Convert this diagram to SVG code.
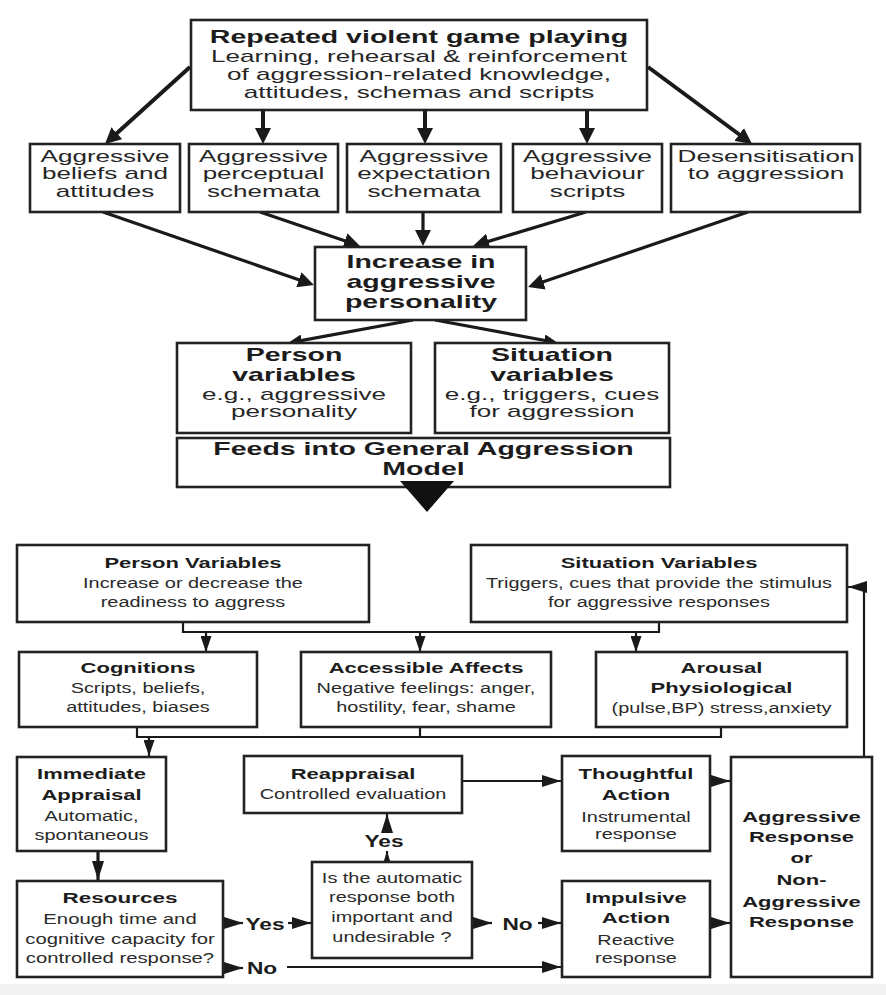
<svg xmlns="http://www.w3.org/2000/svg" width="886" height="995" viewBox="0 0 886 995">
<style>
.box{fill:#fff;stroke:#222;stroke-width:2.6}
.t{font-family:"Liberation Sans",Arial,sans-serif;fill:#1c1c1c;text-anchor:middle}
.bt{font-weight:bold;font-size:17.5px}
.rt{font-size:16px;fill:#262626}
.bb{font-weight:bold;font-size:15.5px}
.rb{font-size:14px;fill:#2a2a2a}
.lb{font-weight:bold;font-size:16px}
.w4{stroke:#1a1a1a;stroke-width:4;fill:none}
.w3{stroke:#1a1a1a;stroke-width:3.2;fill:none}
.w2{stroke:#1a1a1a;stroke-width:2.2;fill:none}
</style>
<defs>
<marker id="at" markerUnits="userSpaceOnUse" markerWidth="16" markerHeight="16" viewBox="0 0 16 16" refX="6" refY="8" orient="auto"><path d="M0,0 L16,8 L0,16 z" fill="#1a1a1a"/></marker>
<marker id="am" markerUnits="userSpaceOnUse" markerWidth="14" markerHeight="12" viewBox="0 0 14 12" refX="5" refY="6" orient="auto"><path d="M0,0 L14,6 L0,12 z" fill="#1a1a1a"/></marker>
<marker id="ab" markerUnits="userSpaceOnUse" markerWidth="19" markerHeight="12" viewBox="0 0 19 12" refX="19" refY="6" orient="auto"><path d="M0,0 L19,6 L0,12 z" fill="#1a1a1a"/></marker>
<marker id="as" markerUnits="userSpaceOnUse" markerWidth="16" markerHeight="11" viewBox="0 0 16 11" refX="16" refY="5.5" orient="auto"><path d="M0,0 L16,5.5 L0,11 z" fill="#1a1a1a"/></marker>
</defs>
<rect x="0" y="0" width="886" height="995" fill="#fff"/>
<rect x="0" y="984" width="886" height="11" fill="#f3f3f3"/>

<g id="connectors">
<!-- top fan-out -->
<line class="w4" x1="190" y1="67" x2="112.4" y2="137.3" marker-end="url(#at)"/>
<line class="w4" x1="263" y1="110" x2="263" y2="134" marker-end="url(#at)"/>
<line class="w4" x1="425" y1="110" x2="425" y2="134" marker-end="url(#at)"/>
<line class="w4" x1="587" y1="110" x2="587" y2="134" marker-end="url(#at)"/>
<line class="w4" x1="648" y1="67" x2="744" y2="138" marker-end="url(#at)"/>
<!-- into Increase -->
<line class="w3" x1="103" y1="212" x2="304.5" y2="281.7" marker-end="url(#at)"/>
<line class="w3" x1="260" y1="212" x2="350.5" y2="242.8" marker-end="url(#at)"/>
<line class="w3" x1="423" y1="212" x2="423" y2="236" marker-end="url(#at)"/>
<line class="w3" x1="586" y1="212" x2="482.6" y2="243.1" marker-end="url(#at)"/>
<line class="w3" x1="748" y1="212" x2="537.5" y2="283.8" marker-end="url(#at)"/>
<!-- Increase to person/situation -->
<line class="w3" x1="413" y1="320" x2="296.8" y2="341.4" marker-end="url(#am)"/>
<line class="w3" x1="435" y1="320" x2="549.2" y2="341.3" marker-end="url(#am)"/>
<!-- GAM connectors -->
<polyline class="w2" points="183,622 183,632 659,632 659,622"/>
<line class="w2" x1="206" y1="632" x2="206" y2="652" marker-end="url(#as)"/>
<line class="w2" x1="420" y1="632" x2="420" y2="652" marker-end="url(#as)"/>
<line class="w2" x1="636" y1="632" x2="636" y2="652" marker-end="url(#as)"/>
<polyline class="w2" points="137,727 137,737 721,737 721,727"/>
<line class="w2" x1="420" y1="727" x2="420" y2="737"/>
<line class="w2" x1="149" y1="737" x2="149" y2="756" marker-end="url(#as)"/>
<line class="w3" x1="98" y1="851" x2="98" y2="880" marker-end="url(#ab)"/>
<line class="w2" x1="223" y1="923" x2="243" y2="923" marker-end="url(#ab)"/>
<line class="w2" x1="288" y1="923" x2="311" y2="923" marker-end="url(#ab)"/>
<line class="w2" x1="223" y1="968" x2="243" y2="968" marker-end="url(#ab)"/>
<line class="w2" x1="287" y1="967" x2="561" y2="967" marker-end="url(#ab)"/>
<line class="w2" x1="472" y1="923" x2="492" y2="923" marker-end="url(#ab)"/>
<line class="w2" x1="538" y1="923" x2="561" y2="923" marker-end="url(#ab)"/>
<line class="w2" x1="387" y1="868" x2="387" y2="851" marker-end="url(#ab)"/>
<line class="w2" x1="387" y1="831" x2="387" y2="814" marker-end="url(#ab)"/>
<line class="w2" x1="462" y1="781" x2="561" y2="781" marker-end="url(#ab)"/>
<line class="w2" x1="710" y1="781" x2="730" y2="781" marker-end="url(#ab)"/>
<line class="w2" x1="710" y1="923" x2="730" y2="923" marker-end="url(#ab)"/>
<polyline class="w2" points="864,757 864,587 848,587" marker-end="url(#ab)"/>
<g transform="translate(265 0) scale(1.42 1)"><text class="t lb" x="0" y="930">Yes</text></g>
<g transform="translate(262 0) scale(1.42 1)"><text class="t lb" x="0" y="974">No</text></g>
<g transform="translate(517.5 0) scale(1.42 1)"><text class="t lb" x="0" y="930">No</text></g>
<g transform="translate(384 0) scale(1.42 1)"><text class="t lb" x="0" y="847">Yes</text></g>
</g>

<g id="n-repeated">
<rect class="box" x="191" y="20" width="456" height="90"/>
<g transform="translate(419 0) scale(1.63 1)">
<text class="t bt" x="0" y="43">Repeated violent game playing</text>
<text class="t rt" x="0" y="62">Learning, rehearsal &amp; reinforcement</text>
<text class="t rt" x="0" y="80">of aggression-related knowledge,</text>
<text class="t rt" x="0" y="98">attitudes, schemas and scripts</text>
</g>
</g>

<g id="n-beliefs">
<rect class="box" x="30" y="144" width="150" height="68"/>
<g transform="translate(105 0) scale(1.63 1)">
<text class="t rt" x="0" y="162">Aggressive</text>
<text class="t rt" x="0" y="179">beliefs and</text>
<text class="t rt" x="0" y="197">attitudes</text>
</g>
</g>
<g id="n-perceptual">
<rect class="box" x="189" y="144" width="149" height="68"/>
<g transform="translate(263.5 0) scale(1.63 1)">
<text class="t rt" x="0" y="162">Aggressive</text>
<text class="t rt" x="0" y="179">perceptual</text>
<text class="t rt" x="0" y="197">schemata</text>
</g>
</g>
<g id="n-expectation">
<rect class="box" x="347" y="144" width="154" height="68"/>
<g transform="translate(424 0) scale(1.63 1)">
<text class="t rt" x="0" y="162">Aggressive</text>
<text class="t rt" x="0" y="179">expectation</text>
<text class="t rt" x="0" y="197">schemata</text>
</g>
</g>
<g id="n-behaviour">
<rect class="box" x="513" y="144" width="149" height="68"/>
<g transform="translate(587.5 0) scale(1.63 1)">
<text class="t rt" x="0" y="162">Aggressive</text>
<text class="t rt" x="0" y="179">behaviour</text>
<text class="t rt" x="0" y="197">scripts</text>
</g>
</g>
<g id="n-desensitisation">
<rect class="box" x="671" y="144" width="189" height="68"/>
<g transform="translate(766 0) scale(1.63 1)">
<text class="t rt" x="0" y="162">Desensitisation</text>
<text class="t rt" x="0" y="179">to aggression</text>
</g>
</g>

<g id="n-increase">
<rect class="box" x="315" y="247" width="211" height="73"/>
<g transform="translate(421 0) scale(1.63 1)">
<text class="t bt" x="0" y="268">Increase in</text>
<text class="t bt" x="0" y="288">aggressive</text>
<text class="t bt" x="0" y="308">personality</text>
</g>
</g>

<g id="n-person-var">
<rect class="box" x="177" y="343" width="234" height="90"/>
<g transform="translate(294 0) scale(1.63 1)">
<text class="t bt" x="0" y="361">Person</text>
<text class="t bt" x="0" y="381">variables</text>
<text class="t rt" x="0" y="400">e.g., aggressive</text>
<text class="t rt" x="0" y="417">personality</text>
</g>
</g>
<g id="n-situation-var">
<rect class="box" x="435" y="343" width="234" height="90"/>
<g transform="translate(552 0) scale(1.63 1)">
<text class="t bt" x="0" y="361">Situation</text>
<text class="t bt" x="0" y="381">variables</text>
<text class="t rt" x="0" y="400">e.g., triggers, cues</text>
<text class="t rt" x="0" y="417">for aggression</text>
</g>
</g>

<g id="n-feeds">
<rect class="box" x="177" y="438" width="493" height="49"/>
<g transform="translate(423.5 0) scale(1.63 1)">
<text class="t bt" x="0" y="455">Feeds into General Aggression</text>
<text class="t bt" x="0" y="475">Model</text>
</g>
<polygon points="400,481 454,481 427,512" fill="#111"/>
</g>

<g id="n-gam-person">
<rect class="box" x="17" y="545" width="352" height="77"/>
<g transform="translate(193 0) scale(1.42 1)">
<text class="t bb" x="0" y="568">Person Variables</text>
<text class="t rb" x="0" y="588">Increase or decrease the</text>
<text class="t rb" x="0" y="607">readiness to aggress</text>
</g>
</g>
<g id="n-gam-situation">
<rect class="box" x="471" y="545" width="376" height="77"/>
<g transform="translate(659 0) scale(1.42 1)">
<text class="t bb" x="0" y="568">Situation Variables</text>
<text class="t rb" x="0" y="588">Triggers, cues that provide the stimulus</text>
<text class="t rb" x="0" y="607">for aggressive responses</text>
</g>
</g>

<g id="n-cognitions">
<rect class="box" x="19" y="652" width="238" height="75"/>
<g transform="translate(138 0) scale(1.42 1)">
<text class="t bb" x="0" y="673">Cognitions</text>
<text class="t rb" x="0" y="693">Scripts, beliefs,</text>
<text class="t rb" x="0" y="712">attitudes, biases</text>
</g>
</g>
<g id="n-affects">
<rect class="box" x="301" y="652" width="250" height="75"/>
<g transform="translate(426 0) scale(1.42 1)">
<text class="t bb" x="0" y="673">Accessible Affects</text>
<text class="t rb" x="0" y="693">Negative feelings: anger,</text>
<text class="t rb" x="0" y="712">hostility, fear, shame</text>
</g>
</g>
<g id="n-arousal">
<rect class="box" x="596" y="652" width="251" height="75"/>
<g transform="translate(721.5 0) scale(1.42 1)">
<text class="t bb" x="0" y="673">Arousal</text>
<text class="t bb" x="0" y="693">Physiological</text>
<text class="t rb" x="0" y="713">(pulse,BP) stress,anxiety</text>
</g>
</g>

<g id="n-appraisal">
<rect class="box" x="17" y="757" width="149" height="94"/>
<g transform="translate(91.5 0) scale(1.42 1)">
<text class="t bb" x="0" y="779">Immediate</text>
<text class="t bb" x="0" y="800">Appraisal</text>
<text class="t rb" x="0" y="821">Automatic,</text>
<text class="t rb" x="0" y="840">spontaneous</text>
</g>
</g>
<g id="n-resources">
<rect class="box" x="17" y="881" width="206" height="96"/>
<g transform="translate(120 0) scale(1.45 1)">
<text class="t bb" x="0" y="903">Resources</text>
<text class="t rb" x="0" y="924">Enough time and</text>
<text class="t rb" x="0" y="944">cognitive capacity for</text>
<text class="t rb" x="0" y="963">controlled response?</text>
</g>
</g>
<g id="n-reappraisal">
<rect class="box" x="244" y="756" width="218" height="57"/>
<g transform="translate(353 0) scale(1.42 1)">
<text class="t bb" x="0" y="779">Reappraisal</text>
<text class="t rb" x="0" y="799">Controlled evaluation</text>
</g>
</g>
<g id="n-decision">
<rect class="box" x="312" y="862" width="160" height="96"/>
<g transform="translate(392 0) scale(1.42 1)">
<text class="t rb" x="0" y="883">Is the automatic</text>
<text class="t rb" x="0" y="902">response both</text>
<text class="t rb" x="0" y="922">important and</text>
<text class="t rb" x="0" y="942">undesirable ?</text>
</g>
</g>
<g id="n-thoughtful">
<rect class="box" x="562" y="756" width="148" height="95"/>
<g transform="translate(636 0) scale(1.42 1)">
<text class="t bb" x="0" y="779">Thoughtful</text>
<text class="t bb" x="0" y="800">Action</text>
<text class="t rb" x="0" y="822">Instrumental</text>
<text class="t rb" x="0" y="839">response</text>
</g>
</g>
<g id="n-impulsive">
<rect class="box" x="562" y="881" width="148" height="96"/>
<g transform="translate(636 0) scale(1.42 1)">
<text class="t bb" x="0" y="903">Impulsive</text>
<text class="t bb" x="0" y="923">Action</text>
<text class="t rb" x="0" y="945">Reactive</text>
<text class="t rb" x="0" y="963">response</text>
</g>
</g>
<g id="n-response">
<rect class="box" x="731" y="757" width="141" height="220"/>
<g transform="translate(801.5 0) scale(1.42 1)">
<text class="t bb" x="0" y="822">Aggressive</text>
<text class="t bb" x="0" y="842">Response</text>
<text class="t bb" x="0" y="863">or</text>
<text class="t bb" x="0" y="885">Non-</text>
<text class="t bb" x="0" y="907">Aggressive</text>
<text class="t bb" x="0" y="927">Response</text>
</g>
</g>
</svg>
